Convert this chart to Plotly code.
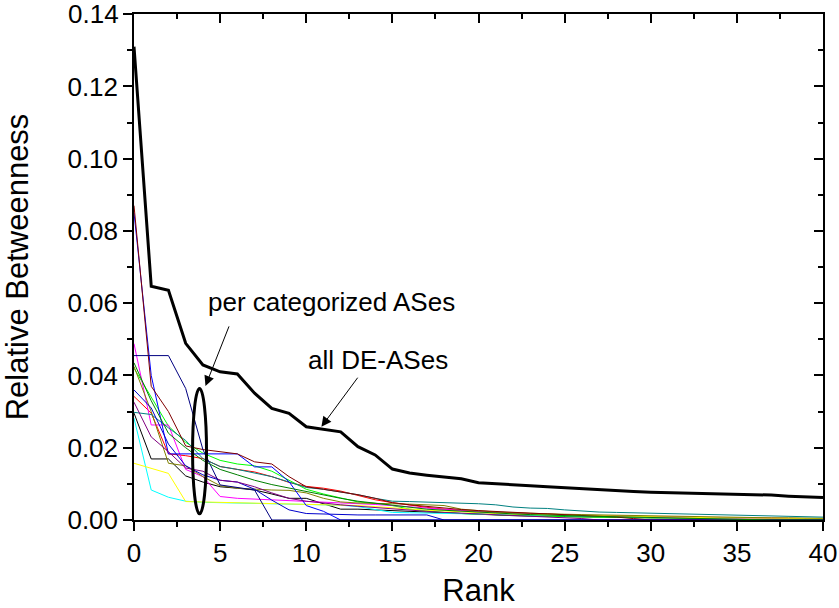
import plotly.graph_objects as go

ranks = list(range(41))
y_ticks = [0.00, 0.02, 0.04, 0.06, 0.08, 0.10, 0.12, 0.14]
y_ticklabels = ["0.00", "0.02", "0.04", "0.06", "0.08", "0.10", "0.12", "0.14"]
x_ticks = [0, 5, 10, 15, 20, 25, 30, 35, 40]

all_de = [0.131, 0.0647, 0.0636, 0.0489, 0.0429, 0.0410, 0.0404, 0.0351, 0.0309, 0.0295,
          0.0258, 0.0251, 0.0244, 0.0203, 0.0180, 0.0141, 0.0130, 0.0124, 0.0119, 0.0114,
          0.0103, 0.0101, 0.0099, 0.0095, 0.0092, 0.0089, 0.0086, 0.0084, 0.0081, 0.0079,
          0.0077, 0.0076, 0.0075, 0.0075, 0.0072, 0.0071, 0.0070, 0.0069, 0.0066, 0.0063, 0.0062]

wine = [0.087, 0.037, 0.030, 0.0205, 0.0195, 0.0190, 0.0183, 0.0161, 0.0155, 0.0120,
        0.0092, 0.0085, 0.0078, 0.0070, 0.0060, 0.0048, 0.0042, 0.0037, 0.0033, 0.0029,
        0.0026, 0.0023, 0.0021, 0.0019, 0.0017, 0.0015, 0.0013, 0.0011, 0.0008, 0.0004,
        0, 0, 0, 0, 0, 0, 0, 0, 0, 0, 0]
blue = [0.085, 0.040, 0.0183, 0.0183, 0.0183, 0.0183, 0.0183, 0.0147, 0.0147, 0.0106,
        0.0040, 0.0024] + [0] * 29
navy = [0.0455, 0.0455, 0.0455, 0.0364, 0.0195, 0.0097, 0.0090, 0.0083] + [0] * 33
royal = [0.036, 0.031, 0.021, 0.015, 0.0125, 0.0110, 0.0105, 0.0085, 0.0055, 0.0028,
         0.0018, 0.0016, 0.0015, 0.0014, 0.0014, 0.0014, 0.0014, 0.0014] + [0] * 23
red = [0.0342, 0.0296, 0.0183, 0.0178, 0.0170, 0.0148, 0.0140, 0.0133, 0.0120, 0.0104,
       0.0093, 0.0088, 0.0080, 0.0069, 0.0056, 0.0048, 0.0041, 0.0035, 0.0030, 0.0026,
       0.0023, 0.0021, 0.0019, 0.0017, 0.0015, 0.0014, 0.0013, 0.0012, 0.0011, 0.0010,
       0.0009, 0.0009, 0.0008, 0.0007, 0.0007, 0.0006, 0.0006, 0.0005, 0.0005, 0.0004, 0.0004]
green = [0.0420, 0.0340, 0.0260, 0.0215, 0.0185, 0.0165, 0.0155, 0.0150, 0.0135, 0.0110,
         0.0085, 0.0072, 0.0060, 0.0050, 0.0046, 0.0040, 0.0030, 0.0025, 0.0021, 0.0018,
         0.0016, 0.0014, 0.0012, 0.0011, 0.0010, 0.0009, 0.0008, 0.0008, 0.0007, 0.0007,
         0.0006, 0.0006, 0.0005, 0.0005, 0.0004, 0.0004, 0.0004, 0.0003, 0.0003, 0.0003, 0.0003]
dkgreen = [0.0435, 0.0330, 0.0240, 0.0200, 0.0165, 0.0140, 0.0125, 0.0110, 0.0098, 0.0088,
           0.0078, 0.0068, 0.0060, 0.0052, 0.0046, 0.0040, 0.0035, 0.0030, 0.0027, 0.0024,
           0.0021, 0.0019, 0.0017, 0.0015, 0.0013, 0.0012, 0.0011, 0.0010, 0.0009, 0.0008,
           0.0007, 0.0006, 0.0005, 0.0004, 0.0003, 0, 0, 0, 0, 0, 0]
teal = [0.0298, 0.0292, 0.0255, 0.0220, 0.0170, 0.0148, 0.0140, 0.0130, 0.0120, 0.0105,
        0.0090, 0.0085, 0.0078, 0.0070, 0.0060, 0.0052, 0.0051, 0.0050, 0.0049, 0.0047,
        0.0045, 0.0042, 0.0036, 0.0033, 0.0032, 0.0028, 0.0024, 0.0022, 0.0021, 0.0020,
        0.0019, 0.0017, 0.0015, 0.0014, 0.0013, 0.0012, 0.0011, 0.0010, 0.0009, 0.0009, 0.0008]
cyan = [0.0282, 0.0083, 0.0063, 0.0052, 0.0049, 0.0048, 0.0047, 0.0046, 0.0046, 0.0045,
        0.0044, 0.0043, 0.0041, 0.0037, 0.0028, 0.0021, 0.0020, 0.0019, 0.0018, 0.0017,
        0.0016, 0.0015, 0.0014, 0.0013, 0.0012, 0.0011, 0.0010, 0.0009, 0.0009, 0.0008,
        0.0008, 0.0007, 0.0007, 0.0006, 0.0006, 0.0005, 0.0005, 0.0004, 0.0004, 0.0004, 0.0003]
yellow = [0.0157, 0.0143, 0.0129, 0.0051, 0.0050, 0.0048, 0.0047, 0.0046, 0.0046, 0.0045,
          0.0044, 0.0043, 0.0042, 0.0040, 0.0037, 0.0033, 0.0030, 0.0027, 0.0025, 0.0022,
          0.0020, 0.0018, 0.0016, 0.0015, 0.0014, 0.0013, 0.0012, 0.0011, 0.0010, 0.0009,
          0.0009, 0.0008, 0.0007, 0.0007, 0.0006, 0.0006, 0.0005, 0.0005, 0.0004, 0.0004, 0.0004]
magenta = [0.0488, 0.0263, 0.0263, 0.0140, 0.0120, 0.0065, 0.0060, 0.0058, 0.0056, 0.0055,
           0.0053, 0.0050, 0.0048, 0.0046, 0.0043, 0.0040, 0.0036, 0.0032, 0.0029, 0.0026,
           0.0023, 0.0021, 0.0019, 0.0017, 0.0015, 0.0013, 0.0012, 0.0011, 0.0010, 0.0009,
           0.0008, 0.0007, 0.0007, 0.0006, 0.0006, 0.0005, 0.0005, 0.0004, 0.0004, 0.0003, 0.0003]
purple = [0.0326, 0.0230, 0.0189, 0.0144, 0.0135, 0.0110, 0.0105, 0.0092, 0.0075, 0.0060,
          0.0052, 0.0046, 0.0042, 0.0038, 0.0034, 0.0030, 0.0027, 0.0024, 0.0021, 0.0019,
          0.0017, 0.0015, 0.0013, 0.0011, 0.0009, 0.0007, 0.0004] + [0] * 14
olive = [0.0425, 0.0300, 0.0157, 0.0150, 0.0120, 0.0095, 0.0088, 0.0085, 0.0083, 0.0082,
         0.0075, 0.0060, 0.0050, 0.0047, 0.0045, 0.0045, 0.0044, 0.0043, 0.0040, 0.0030,
         0.0025, 0.0022, 0.0020, 0.0018, 0.0017, 0.0016, 0.0015, 0.0014, 0.0013, 0.0012,
         0.0011, 0.0010, 0.0010, 0.0009, 0.0008, 0.0008, 0.0007, 0.0006, 0.0006, 0.0005, 0.0005]
black_thin = [0.0296, 0.0169, 0.0169, 0.0122, 0.0105, 0.0092, 0.0088, 0.0083, 0.0072, 0.0060,
              0.0060, 0.0045, 0.0030, 0.0030, 0.0028, 0.0025, 0.0022, 0.0020, 0.0018, 0.0016,
              0.0014, 0.0013, 0.0012, 0.0011, 0.0010, 0.0009, 0.0008, 0.0008, 0.0007, 0.0007,
              0.0006, 0.0006, 0.0005, 0.0005, 0.0004, 0.0004, 0.0004, 0.0003, 0.0003, 0.0003, 0.0003]

thin_series = [
    ("black", black_thin, "#000000"),
    ("red", red, "#FF0000"),
    ("green", green, "#00FF00"),
    ("cyan", cyan, "#00FFFF"),
    ("magenta", magenta, "#FF00FF"),
    ("yellow", yellow, "#FFFF00"),
    ("olive", olive, "#808000"),
    ("teal", teal, "#008080"),
    ("blue", blue, "#0000FF"),
    ("wine", wine, "#800000"),
    ("royal", royal, "#0000CC"),
    ("purple", purple, "#800080"),
    ("navy", navy, "#000080"),
    ("dkgreen", dkgreen, "#008000"),
]

FONT = "Liberation Sans, Arial, sans-serif"
FS = 26
Y_MAX = 0.14004

fig = go.Figure()
for name, vals, col in thin_series:
    fig.add_trace(go.Scatter(x=ranks, y=vals, mode="lines", name=name,
                             line=dict(color=col, width=1), showlegend=False))
fig.add_trace(go.Scatter(x=ranks, y=all_de, mode="lines", name="all DE-ASes",
                         line=dict(color="black", width=3), showlegend=False))
# dummy trace to register mirrored axes
fig.add_trace(go.Scatter(x=[None], y=[None], xaxis="x2", yaxis="y2",
                         showlegend=False, hoverinfo="skip"))

axis_common = dict(showgrid=False, zeroline=False, showline=True, linecolor="black",
                   linewidth=1.5, tickcolor="black", tickwidth=1.5, ticklen=9,
                   automargin=False)

fig.update_layout(
    width=839, height=608,
    margin=dict(l=134, r=16, t=14, b=88),
    paper_bgcolor="white", plot_bgcolor="white",
    font=dict(family=FONT, size=FS, color="black"),
    xaxis=dict(range=[0, 40], tickmode="array", tickvals=x_ticks, ticks="outside",
               minor=dict(ticks="outside", dtick=2.5, tick0=0, ticklen=5, tickwidth=1.5,
                          tickcolor="black"),
               title=dict(text="Rank", standoff=14), layer="below traces", **axis_common),
    yaxis=dict(range=[0, Y_MAX], tickmode="array", tickvals=y_ticks, ticktext=y_ticklabels,
               ticks="outside",
               minor=dict(ticks="outside", dtick=0.01, tick0=0, ticklen=5, tickwidth=1.5,
                          tickcolor="black"),
               title=dict(text="Relative Betweenness", standoff=31), layer="below traces",
               **axis_common),
    xaxis2=dict(range=[0, 40], overlaying="x", side="top", anchor="y2", tickmode="array",
                tickvals=x_ticks, ticks="inside", showticklabels=False,
                minor=dict(ticks="inside", dtick=2.5, tick0=0, ticklen=5, tickwidth=1.5,
                           tickcolor="black"),
                **axis_common),
    yaxis2=dict(range=[0, Y_MAX], overlaying="y", side="right", anchor="x2", tickmode="array",
                tickvals=y_ticks, ticks="inside", showticklabels=False,
                minor=dict(ticks="inside", dtick=0.01, tick0=0, ticklen=5, tickwidth=1.5,
                           tickcolor="black"),
                **axis_common),
)

# top y tick label (drawn explicitly so it is never dropped at the range end)
fig.add_annotation(x=-0.0195, y=y_ticks[-1], xref="paper", yref="y", text=y_ticklabels[-1],
                   showarrow=False, xanchor="right", yanchor="middle",
                   font=dict(size=FS, family=FONT, color="black"))
# outward tick mark at the top of the left axis
fig.add_shape(type="line", xref="paper", yref="y", x0=-0.013, x1=0, y0=y_ticks[-1], y1=y_ticks[-1],
              line=dict(color="black", width=1.5))

# ellipse around the per-category curves
fig.add_shape(type="circle", xref="x", yref="y", x0=3.40, x1=4.21, y0=0.0017, y1=0.0364,
              line=dict(color="black", width=3))

# labels
fig.add_annotation(x=11.48, y=0.0603, xref="x", yref="y", text="per categorized ASes",
                   showarrow=False, font=dict(size=FS, family=FONT, color="black"))
fig.add_annotation(x=14.15, y=0.0443, xref="x", yref="y", text="all DE-ASes",
                   showarrow=False, font=dict(size=FS, family=FONT, color="black"))

# arrows
fig.add_annotation(x=4.15, y=0.0371, ax=5.55, ay=0.054, xref="x", yref="y",
                   axref="x", ayref="y", text="", showarrow=True, arrowhead=2,
                   arrowsize=2, arrowwidth=1, arrowcolor="black", standoff=0, startstandoff=0)
fig.add_annotation(x=10.88, y=0.0258, ax=13.05, ay=0.0398, xref="x", yref="y",
                   axref="x", ayref="y", text="", showarrow=True, arrowhead=2,
                   arrowsize=2, arrowwidth=1, arrowcolor="black", standoff=0, startstandoff=0)

fig.write_html("out.html")
